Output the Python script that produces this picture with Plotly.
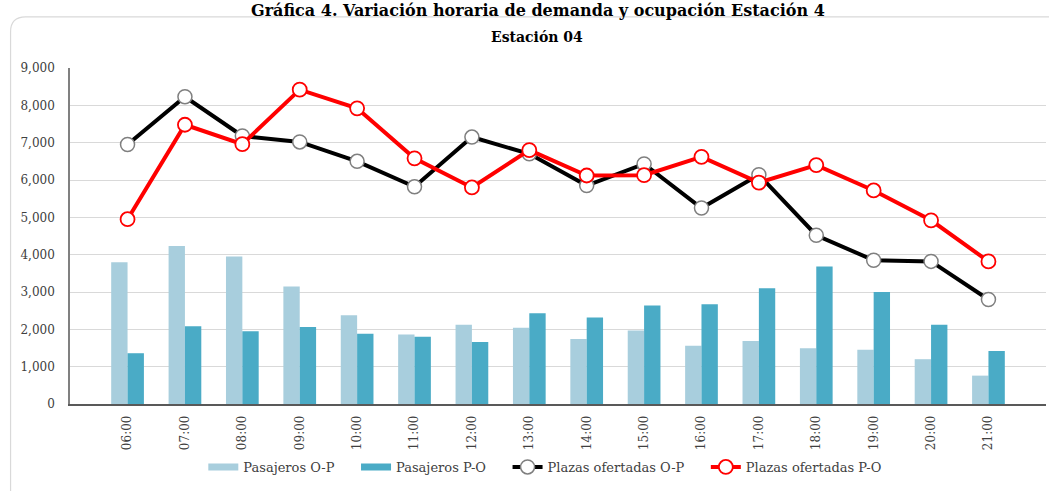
import plotly.graph_objects as go

horas = ["06:00", "07:00", "08:00", "09:00", "10:00", "11:00", "12:00", "13:00",
         "14:00", "15:00", "16:00", "17:00", "18:00", "19:00", "20:00", "21:00"]
pasajeros_op = [3800, 4230, 3950, 3150, 2380, 1860, 2120, 2040, 1740, 1970, 1560, 1690, 1490, 1450, 1200, 760]
pasajeros_po = [1360, 2080, 1950, 2060, 1880, 1800, 1660, 2430, 2320, 2640, 2670, 3100, 3680, 3000, 2120, 1420]
plazas_op = [6950, 8230, 7180, 7020, 6500, 5820, 7150, 6700, 5850, 6430, 5250, 6140, 4520, 3850, 3820, 2800]
plazas_po = [4950, 7480, 6960, 8420, 7920, 6580, 5800, 6800, 6120, 6130, 6620, 5930, 6400, 5720, 4920, 3820]

FONT = "DejaVu Serif"
C_LIGHT = "#a8cedd"
C_DARK = "#4aabc6"
PAD = "\u00a0" * 4

fig = go.Figure()
fig.add_trace(go.Bar(x=horas, y=pasajeros_op, name="Pasajeros O-P", showlegend=False,
                     marker=dict(color=C_LIGHT, line=dict(width=0))))
fig.add_trace(go.Bar(x=horas, y=pasajeros_po, name="Pasajeros P-O", showlegend=False,
                     marker=dict(color=C_DARK, line=dict(width=0))))
# legend swatches styled like the reference (flat bars)
fig.add_trace(go.Scatter(x=[None], y=[None], mode="lines", name="Pasajeros O-P" + PAD,
                         line=dict(color=C_LIGHT, width=7)))
fig.add_trace(go.Scatter(x=[None], y=[None], mode="lines", name="Pasajeros P-O" + PAD,
                         line=dict(color=C_DARK, width=7)))
fig.add_trace(go.Scatter(x=horas, y=plazas_op, name="Plazas ofertadas O-P" + PAD, mode="lines+markers",
                         line=dict(color="#000000", width=4),
                         marker=dict(symbol="circle", size=14, color="#ffffff",
                                     line=dict(color="#7f7f7f", width=1.5))))
fig.add_trace(go.Scatter(x=horas, y=plazas_po, name="Plazas ofertadas P-O", mode="lines+markers",
                         line=dict(color="#ff0000", width=4),
                         marker=dict(symbol="circle", size=14, color="#ffffff",
                                     line=dict(color="#ff0000", width=1.8))))

# rounded frame
x0, y0, x1, y1 = -0.0609, -0.30, 1.01, 1.152
rx, ry = 15 / 977, 15 / 336
path = f"M {x0},{y0} L {x0},{y1 - ry} Q {x0},{y1} {x0 + rx},{y1} L {x1},{y1}"

fig.update_layout(
    width=1049, height=491,
    margin=dict(l=69.5, r=2.5, t=68, b=87),
    paper_bgcolor="white", plot_bgcolor="white",
    barmode="group", bargap=0.43, bargroupgap=0.0,
    font=dict(family=FONT, size=12, color="#404040"),
    showlegend=True,
    legend=dict(orientation="h", x=0.487, xanchor="center", y=-0.1875, yanchor="middle",
                font=dict(family=FONT, size=13, color="#404040"),
                itemwidth=30, traceorder="normal", bgcolor="rgba(0,0,0,0)"),
    shapes=[dict(type="path", path=path, xref="paper", yref="paper",
                 line=dict(color="#d9d9d9", width=1.2), fillcolor="rgba(0,0,0,0)", layer="below")],
    annotations=[
        dict(text="<b>Gráfica 4. Variación horaria de demanda y ocupación Estación 4</b>",
             x=0.48, y=(404 - 11) / 336, xref="paper", yref="paper", xanchor="center", yanchor="middle",
             showarrow=False, font=dict(family=FONT, size=16, color="#000000")),
        dict(text="<b>Estación 04</b>",
             x=0.478, y=(404 - 37) / 336, xref="paper", yref="paper", xanchor="center", yanchor="middle",
             showarrow=False, font=dict(family=FONT, size=14, color="#000000")),
    ],
)
fig.update_yaxes(range=[0, 9000], dtick=1000, tickformat=",", showgrid=True,
                 gridcolor="#d9d9d9", gridwidth=1.2, zeroline=False,
                 showline=True, linecolor="#808080", linewidth=1.5,
                 ticks="", ticklabelstandoff=11,
                 tickfont=dict(family=FONT, size=12, color="#404040"))
fig.update_xaxes(tickangle=-90, showgrid=False, showline=True, linecolor="#595959",
                 linewidth=1.5, ticks="", ticklabelstandoff=5,
                 tickfont=dict(family=FONT, size=12, color="#404040"))

fig.write_html("out.html", config={"displayModeBar": False},
               post_script="document.body.style.margin='0px';")
